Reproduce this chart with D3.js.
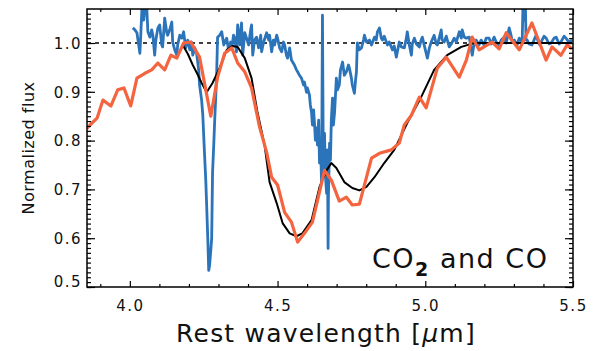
<!DOCTYPE html>
<html><head><meta charset="utf-8">
<script src="https://cdn.jsdelivr.net/npm/d3@7"></script>
<style>
html,body{margin:0;padding:0;background:#fff;}
text{font-family:"DejaVu Sans",sans-serif;fill:#111;}
</style></head>
<body>
<svg id="c" width="595" height="351"></svg>
<script>
// ---------------- data ----------------
const xTicks = [4.0, 4.5, 5.0, 5.5];
const yTicks = [0.5, 0.6, 0.7, 0.8, 0.9, 1.0];

// orange: low-resolution spectrum
const orangeWl = [3.855,3.865,3.889,3.909,3.936,3.959,3.980,4.003,4.024,4.051,4.074,4.095,4.118,4.139,4.159,4.182,4.206,4.236,4.274,4.297,4.321,4.345,4.365,4.389,4.412,4.439,4.463,4.480,4.500,4.524,4.547,4.568,4.591,4.618,4.659,4.682,4.709,4.733,4.753,4.777,4.818,4.845,4.885,4.912,4.929,4.953,4.980,5.003,5.041,5.071,5.115,5.139,5.159,5.182,5.226,5.250,5.274,5.318,5.361,5.409,5.429,5.459,5.480,5.497];
const orangeFlux = [0.825,0.832,0.846,0.883,0.871,0.904,0.908,0.871,0.928,0.938,0.945,0.959,0.945,0.975,0.969,1.000,1.002,0.971,0.850,0.930,0.979,0.990,0.959,0.941,0.908,0.828,0.776,0.725,0.709,0.653,0.633,0.592,0.610,0.633,0.739,0.719,0.676,0.684,0.668,0.670,0.764,0.774,0.781,0.795,0.832,0.852,0.889,0.867,0.949,0.971,0.930,0.965,1.012,0.986,1.002,0.988,1.021,0.986,1.041,0.965,0.992,0.975,0.996,0.988];

// black: model
const modelWl = [4.179,4.196,4.213,4.230,4.243,4.260,4.280,4.304,4.328,4.348,4.365,4.389,4.412,4.432,4.456,4.473,4.497,4.517,4.541,4.564,4.584,4.615,4.642,4.666,4.682,4.699,4.726,4.753,4.777,4.801,4.828,4.861,4.895,4.939,4.986,5.030,5.074,5.122,5.166,5.250,5.350,5.497];
const modelFlux = [0.996,0.978,0.955,0.935,0.918,0.899,0.918,0.949,0.986,0.994,0.992,0.969,0.928,0.858,0.791,0.715,0.672,0.631,0.610,0.604,0.610,0.637,0.705,0.739,0.754,0.744,0.715,0.703,0.698,0.705,0.725,0.754,0.781,0.836,0.889,0.945,0.975,0.992,1.000,1.000,1.000,1.000];

// blue: high-resolution spectrum
const blueWl = [4.010,4.017,4.024,4.030,4.034,4.037,4.041,4.047,4.051,4.054,4.057,4.061,4.068,4.074,4.078,4.084,4.088,4.095,4.101,4.108,4.111,4.118,4.125,4.128,4.135,4.142,4.145,4.152,4.159,4.162,4.169,4.176,4.182,4.189,4.196,4.203,4.209,4.213,4.220,4.226,4.233,4.236,4.243,4.247,4.250,4.253,4.257,4.260,4.264,4.267,4.270,4.274,4.277,4.280,4.284,4.287,4.291,4.294,4.297,4.304,4.311,4.318,4.321,4.328,4.334,4.341,4.345,4.351,4.355,4.361,4.365,4.372,4.378,4.382,4.389,4.395,4.402,4.409,4.412,4.416,4.422,4.429,4.436,4.443,4.446,4.453,4.463,4.470,4.473,4.480,4.486,4.490,4.497,4.500,4.507,4.514,4.520,4.524,4.530,4.534,4.541,4.547,4.551,4.557,4.564,4.568,4.574,4.581,4.588,4.591,4.598,4.601,4.608,4.611,4.615,4.618,4.622,4.625,4.628,4.632,4.635,4.639,4.642,4.645,4.649,4.652,4.655,4.659,4.662,4.666,4.669,4.671,4.672,4.676,4.679,4.682,4.686,4.689,4.693,4.696,4.699,4.703,4.709,4.713,4.720,4.726,4.733,4.740,4.743,4.750,4.753,4.760,4.764,4.767,4.770,4.777,4.784,4.791,4.794,4.801,4.811,4.818,4.828,4.834,4.838,4.845,4.851,4.855,4.861,4.872,4.878,4.889,4.895,4.902,4.912,4.919,4.929,4.936,4.939,4.946,4.953,4.956,4.963,4.970,4.980,4.986,4.990,4.997,5.007,5.014,5.020,5.030,5.037,5.041,5.047,5.054,5.057,5.064,5.071,5.081,5.088,5.098,5.105,5.115,5.122,5.125,5.132,5.139,5.149,5.155,5.159,5.166,5.172,5.182,5.189,5.199,5.206,5.216,5.223,5.233,5.240,5.250,5.257,5.267,5.274,5.284,5.291,5.294,5.301,5.311,5.318,5.328,5.331,5.334,5.338,5.341,5.345,5.351,5.361,5.368,5.375,5.385,5.392,5.402,5.409,5.419,5.426,5.436,5.443,5.453,5.459,5.470,5.476,5.486,5.497];
const blueFlux = [1.031,1.027,1.021,0.996,0.979,1.016,1.072,1.047,1.070,1.088,1.078,1.023,1.012,1.027,1.016,0.975,1.006,1.031,1.037,0.996,0.992,1.051,1.021,1.016,1.027,1.043,1.002,0.986,0.975,0.996,1.016,1.010,1.023,0.990,1.006,0.986,1.002,0.975,0.990,0.979,0.945,0.914,0.883,0.852,0.811,0.770,0.719,0.668,0.596,0.534,0.545,0.575,0.600,0.735,0.791,0.838,0.893,0.941,1.012,1.016,1.023,0.996,1.002,1.010,0.986,1.002,0.990,1.016,1.010,0.982,1.037,0.996,1.041,0.975,1.021,1.010,0.996,1.027,1.037,0.975,1.006,1.012,0.990,1.016,0.982,1.002,1.021,1.006,1.016,0.982,1.006,0.996,1.016,1.010,0.990,0.982,1.002,0.996,0.975,0.969,0.990,0.965,0.961,0.955,0.945,0.941,0.934,0.928,0.914,0.920,0.899,0.908,0.893,0.873,0.858,0.832,0.863,0.836,0.801,0.826,0.791,0.842,0.754,0.801,0.713,1.057,0.739,0.815,0.729,0.692,0.781,0.579,0.678,0.795,0.760,0.842,0.887,0.832,0.858,0.893,0.928,0.904,0.914,0.945,0.961,0.934,0.941,0.955,0.949,0.928,0.914,0.897,0.924,0.941,1.000,0.986,0.990,1.006,1.016,1.002,1.006,0.996,1.012,1.006,1.023,1.031,1.010,1.006,1.014,0.996,1.002,0.986,0.994,0.971,1.002,0.992,0.990,1.010,1.023,0.996,0.975,0.998,1.010,0.998,0.992,1.006,1.012,0.994,0.969,0.990,1.002,1.016,0.998,0.996,1.010,1.027,1.006,1.002,1.014,0.992,0.998,1.010,1.002,1.023,1.010,1.027,1.012,1.010,1.012,0.990,0.975,1.002,1.006,0.996,1.006,0.996,1.010,1.010,0.998,1.012,1.002,0.996,1.006,1.012,1.000,1.031,1.014,1.002,1.006,0.996,1.010,1.002,1.088,1.047,1.109,1.006,1.006,0.998,0.996,1.006,1.016,0.998,1.002,1.014,1.010,0.998,1.000,1.010,1.012,0.998,1.002,1.014,1.010,1.002,1.006];

const xTitle = "Rest wavelength [\u03bcm]";
const yTitle = "Normalized flux";

// ---------------- layout ----------------
const L = 87, R = 573, T = 9, B = 287;
const svg = d3.select("#c");
const x = d3.scaleLinear().domain([3.855, 5.5]).range([L, R]);
const y = d3.scaleLinear().domain([0.5, 1.0697]).range([B, T]);

svg.append("clipPath").attr("id","clip").append("rect")
  .attr("x",L).attr("y",T).attr("width",R-L).attr("height",B-T);

const xMinor = d3.range(39, 56).map(d => d/10).filter(d => xTicks.indexOf(+d.toFixed(1)) < 0);
const yMinor = d3.range(50, 107).map(d => d/100);

// dotted reference line
svg.append("line").attr("x1",L).attr("x2",R).attr("y1",y(1)).attr("y2",y(1))
  .attr("stroke","#000").attr("stroke-width",1.6).attr("stroke-dasharray","4,4");

const g = svg.append("g").attr("clip-path","url(#clip)");
const line = (xs, ys) => d3.line().x((d,i)=>x(xs[i])).y((d,i)=>y(ys[i]))(xs);

g.append("path").attr("d", line(blueWl, blueFlux)).attr("fill","none")
  .attr("stroke","#2b74ba").attr("stroke-width",2.8).attr("stroke-linejoin","round");
g.append("path").attr("d", line(modelWl, modelFlux)).attr("fill","none")
  .attr("stroke","#000").attr("stroke-width",2).attr("stroke-linejoin","round");
g.append("path").attr("d", line(orangeWl, orangeFlux)).attr("fill","none")
  .attr("stroke","#f4643f").attr("stroke-width",3.2).attr("stroke-linejoin","round");

// axes
function ax(gen, tf, vals, size, labels){
  const a = svg.append("g").attr("transform",tf)
    .call(gen.tickValues(vals).tickSize(size).tickPadding(8)
      .tickFormat(labels ? d3.format(".1f") : ""));
  a.select(".domain").remove();
  a.selectAll(".tick line").attr("stroke","#000").attr("stroke-width",1.2);
  return a;
}
const bx = ax(d3.axisBottom(x), `translate(0,${B})`, xTicks, -6, true);
bx.selectAll("text").attr("font-size",15).attr("dy","1.05em").style("letter-spacing","1.5px").attr("fill","#222");
ax(d3.axisBottom(x), `translate(0,${B})`, xMinor, -3, false);
ax(d3.axisTop(x), `translate(0,${T})`, xTicks, -6, false);
ax(d3.axisTop(x), `translate(0,${T})`, xMinor, -3, false);

const ly = ax(d3.axisLeft(y), `translate(${L},0)`, yTicks, -8, true);
ly.selectAll("text").attr("font-size",15).attr("x",-5).style("letter-spacing","1.5px").attr("fill","#222")
  .attr("dy", d => d === 0.5 ? "-0.05em" : "0.35em");
ax(d3.axisLeft(y), `translate(${L},0)`, yMinor, -4, false);
ax(d3.axisRight(y), `translate(${R},0)`, yTicks, -8, false);
ax(d3.axisRight(y), `translate(${R},0)`, yMinor, -4, false);

// frame
svg.append("rect").attr("x",L).attr("y",T).attr("width",R-L).attr("height",B-T)
  .attr("fill","none").attr("stroke","#000").attr("stroke-width",1.5);

// titles
const xt = svg.append("text").attr("x",(L+R)/2-4).attr("y",342).attr("text-anchor","middle")
  .attr("font-size",25).style("letter-spacing","1.2px").attr("fill","#222");
xt.append("tspan").text("Rest wavelength [");
xt.append("tspan").attr("font-style","italic").text("\u03bc");
xt.append("tspan").text("m]");
svg.append("text").attr("transform",`translate(34,${(T+B)/2}) rotate(-90)`)
  .attr("text-anchor","middle").attr("font-size",16).style("letter-spacing","0.5px").attr("fill","#222").text(yTitle);

const lab = svg.append("text").attr("x",372).attr("y",268).attr("font-size",27).style("letter-spacing","1.5px");
lab.append("tspan").text("CO");
lab.append("tspan").attr("font-size",19).attr("dy",8).attr("font-weight","bold").text("2");
lab.append("tspan").attr("dy",-8).text(" and CO");
</script>
</body></html>
